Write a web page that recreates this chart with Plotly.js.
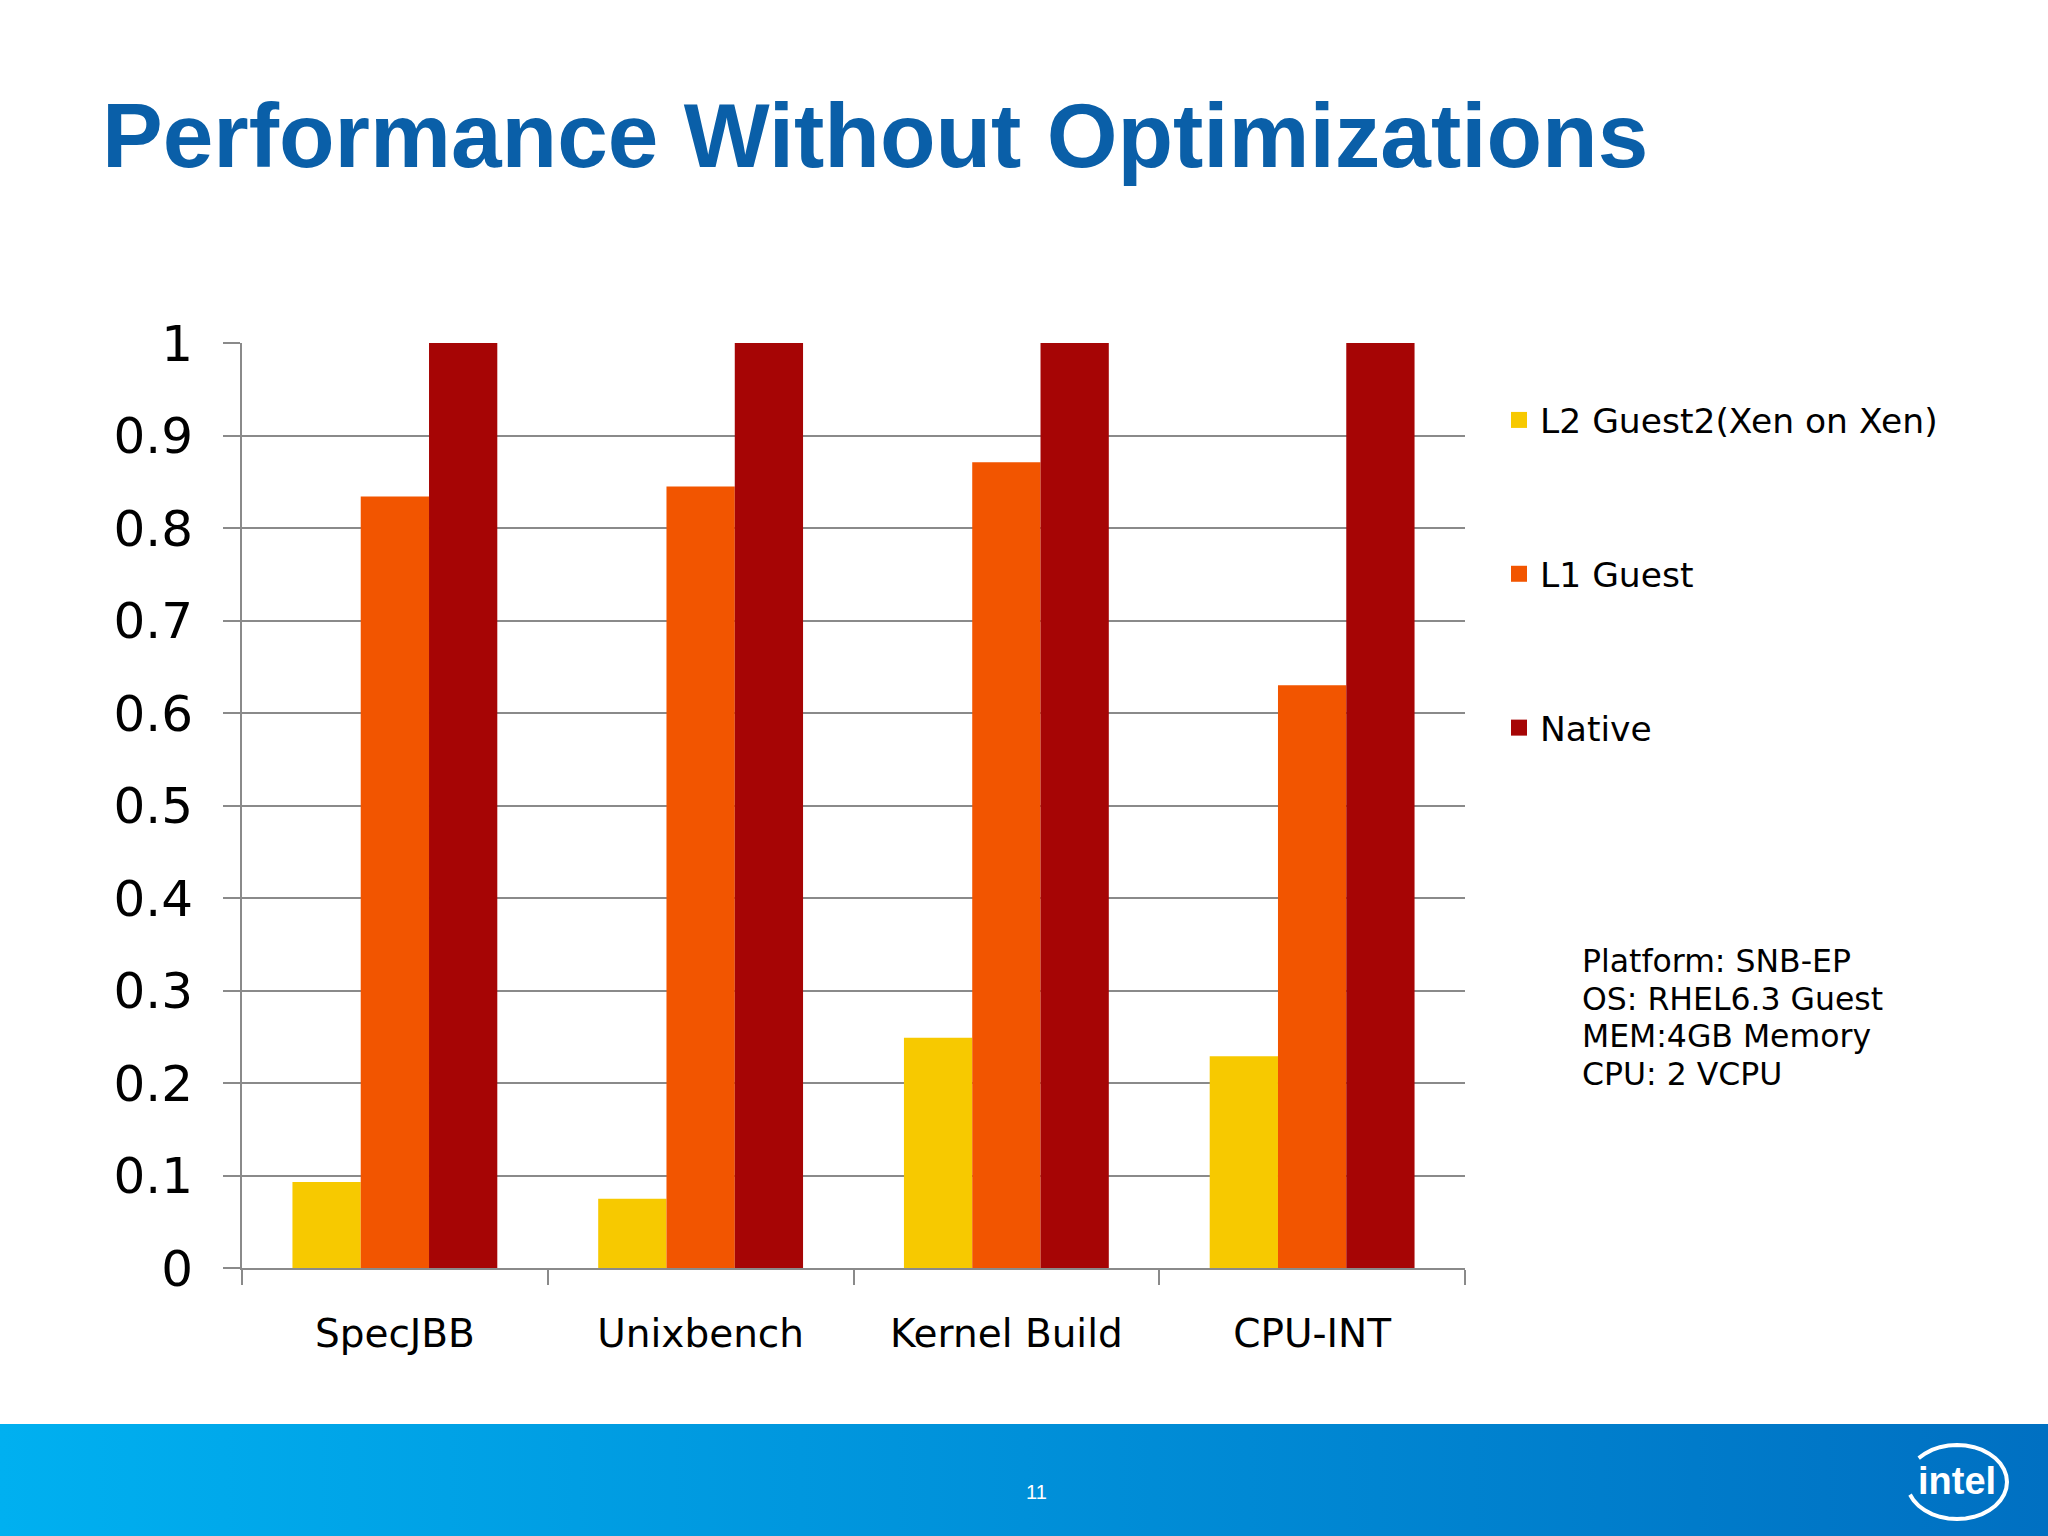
<!DOCTYPE html>
<html>
<head>
<meta charset="utf-8">
<script src="https://cdn.plot.ly/plotly-3.0.1.min.js"></script>
<style>
  html, body { margin: 0; padding: 0; background: #fff; }
  #chart { width: 2048px; height: 1536px; }
</style>
</head>
<body>
<div id="chart"></div>
<script>
// benchmarks and relative performance (Native = 1)
var benchmarks = ["SpecJBB", "Unixbench", "Kernel Build", "CPU-INT"];
var l2Guest = [0.093, 0.075, 0.249, 0.229];
var l1Guest = [0.834, 0.845, 0.871, 0.630];
var native = [1, 1, 1, 1];

var seriesNames = ["L2 Guest2(Xen on Xen)", "L1 Guest", "Native"];
var seriesColors = ["#f7c900", "#f25500", "#a60505"];

var notes = ["Platform: SNB-EP", "OS: RHEL6.3 Guest", "MEM:4GB Memory", "CPU: 2 VCPU"];

var W = 2048, H = 1536;
var M = {l: 242, r: 583, t: 343, b: 268};
var pw = W - M.l - M.r, ph = H - M.t - M.b;
// pixel -> paper helpers for the slide decoration
function px(x) { return (x - M.l) / pw; }
function py(y) { return (H - M.b - y) / ph; }

var values = [l2Guest, l1Guest, native];
var data = values.map(function (v, i) {
    return {
        x: benchmarks,
        y: v,
        name: seriesNames[i],
        type: "bar",
        marker: {color: seriesColors[i]},
        legendgroup: "g" + i,
        hoverinfo: "y"
    };
});

var gray = "#8a8a8a";
var axisFont = "DejaVu Sans, Verdana, sans-serif";

var annotations = notes.map(function (t, i) {
    return {
        text: t, xref: "paper", yref: "paper",
        x: px(1580), y: py(961 + i * 37.7),
        xanchor: "left", yanchor: "middle", showarrow: false,
        font: {family: axisFont, size: 31.5, color: "#000"}
    };
});
annotations.push({
    text: "11", xref: "paper", yref: "paper", x: px(1036), y: py(1492),
    xanchor: "center", yanchor: "middle", showarrow: false,
    font: {family: "Liberation Sans Narrow, Liberation Sans, sans-serif", size: 20, color: "#fff"}
});
annotations.push({
    text: "intel", xref: "paper", yref: "paper", x: px(1957), y: py(1481),
    xanchor: "center", yanchor: "middle", showarrow: false,
    font: {family: "Liberation Sans, Arial, sans-serif", size: 38, color: "#fff", weight: "bold"}
});

// intel swoosh: open ellipse arc around the word
var cx = 1957, cy = 1482, rx = 50, ry = 37, pts = [];
for (var a = 200; a <= 500; a += 10) {
    var t = a * Math.PI / 180;
    pts.push(px(cx + rx * Math.cos(t)).toFixed(5) + "," + py(cy - ry * Math.sin(t)).toFixed(5));
}
var swoosh = "M" + pts.join("L");

var band = "data:image/svg+xml;utf8," + encodeURIComponent(
    '<svg xmlns="http://www.w3.org/2000/svg" width="2048" height="112">' +
    '<defs><linearGradient id="g" x1="0" x2="1" y1="0" y2="0">' +
    '<stop offset="0" stop-color="#00b0f0"/><stop offset="1" stop-color="#0070c2"/>' +
    '</linearGradient></defs><rect width="2048" height="112" fill="url(#g)"/></svg>');

var layout = {
    width: W,
    height: H,
    margin: M,
    paper_bgcolor: "#fff",
    plot_bgcolor: "#fff",
    title: {
        text: "Performance Without Optimizations",
        xref: "container", yref: "container",
        x: 102 / W, y: 1 - 135 / H,
        xanchor: "left", yanchor: "middle",
        font: {family: "Liberation Sans, Arial, sans-serif", size: 91, color: "#0a5fa8", weight: "bold"}
    },
    barmode: "group",
    bargap: 0.33,
    bargroupgap: 0,
    showlegend: true,
    legend: {
        x: px(1500), y: py(391),
        xanchor: "left", yanchor: "top",
        font: {family: axisFont, size: 34.5, color: "#000"},
        tracegroupgap: 106,
        bgcolor: "rgba(0,0,0,0)"
    },
    xaxis: {
        type: "category",
        tickson: "boundaries",
        ticks: "outside",
        ticklen: 15,
        tickwidth: 2,
        tickcolor: gray,
        showline: true,
        linecolor: gray,
        linewidth: 2,
        showgrid: false,
        ticklabelstandoff: 30,
        tickfont: {family: axisFont, size: 39, color: "#000"}
    },
    yaxis: {
        range: [0, 1],
        dtick: 0.1,
        tick0: 0,
        ticks: "outside",
        ticklen: 17,
        tickwidth: 2,
        tickcolor: gray,
        showline: true,
        linecolor: gray,
        linewidth: 2,
        showgrid: true,
        gridcolor: gray,
        gridwidth: 2,
        zeroline: false,
        ticklabelstandoff: 20,
        tickfont: {family: axisFont, size: 50, color: "#000"}
    },
    annotations: annotations,
    images: [{
        source: band, xref: "paper", yref: "paper",
        x: px(0), y: py(1424), sizex: W / pw, sizey: 112 / ph,
        xanchor: "left", yanchor: "top", sizing: "stretch", layer: "below"
    }],
    shapes: [{
        type: "path", path: swoosh, xref: "paper", yref: "paper",
        line: {color: "#fff", width: 4}
    }]
};

Plotly.newPlot("chart", data, layout, {staticPlot: true}).then(function (gd) {
    // legend squares in the slide are bigger and closer to the text
    gd.querySelectorAll(".legendpoints path").forEach(function (p) {
        p.setAttribute("d", "M7,8H-9V-8H7Z");
    });
});
</script>
</body>
</html>
